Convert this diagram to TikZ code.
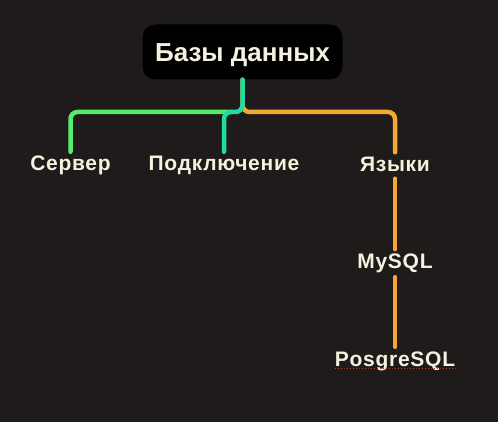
\documentclass[tikz,border=0pt]{standalone}
\usepackage{fontspec}
\setmainfont{Liberation Sans}
\begin{document}
\definecolor{bg}{HTML}{1F1B1A}
\definecolor{cream}{HTML}{F4F1DE}
\definecolor{lgreen}{HTML}{55EC6E}
\definecolor{lteal}{HTML}{22DBA3}
\definecolor{lorange}{HTML}{F6A731}
\definecolor{spell}{HTML}{C0392B}
\begin{tikzpicture}[x=1pt,y=-1pt,
  rootbox/.style={fill=black, rounded corners=13pt, minimum width=200pt, minimum height=55pt,
    inner sep=0pt, text=cream, font=\bfseries\fontsize{26}{28}\selectfont, text height=18.6pt, text depth=0pt},
  lbl/.style={anchor=base, text=cream, font=\bfseries\fontsize{21}{23}\selectfont\addfontfeature{LetterSpace=3.5},
    text height=15pt, text depth=0pt, inner xsep=0pt, inner ysep=4pt},
  conn/.style={line width=4.5pt, line cap=round, rounded corners=7pt},
  vconn/.style={line width=4.5pt, line cap=round, lorange}
  ]
  \path[fill=bg] (0,0) rectangle (498,422);
  \useasboundingbox (0,0) rectangle (498,422);
  \node[rootbox] (root) at (242.5,52) {Базы данных};
  \node[lbl] (server) at (70.5,171) {Сервер};
  \node[lbl] (podkl) at (224,171) {Подключение};
  \node[lbl] (yazyki) at (395,171.5) {Языки};
  \node[lbl] (mysql) at (395,268.3) {MySQL};
  \node[lbl] (posgre) at (395,366) {PosgreSQL};
  \coordinate (jrow) at (242.5,112);
  \coordinate (jg) at (231,112);
  % connectors
  \draw[conn, lorange] (root.south) -- (jrow) -| (yazyki.north);
  \draw[conn, lgreen] (server.north) |- (jg);
  \draw[conn, lteal] (root.south) -- (jrow) -| (podkl.north);
  \draw[vconn, shorten <=3pt] (yazyki.south) -- (mysql.north);
  \draw[vconn, shorten <=4.7pt] (mysql.south) -- (posgre.north);
  % spell-check underline
  \draw[spell, line width=1pt, dotted] ([yshift=-2.5pt]posgre.base west) -- ([yshift=-2.5pt]posgre.base east);
\end{tikzpicture}
\end{document}
